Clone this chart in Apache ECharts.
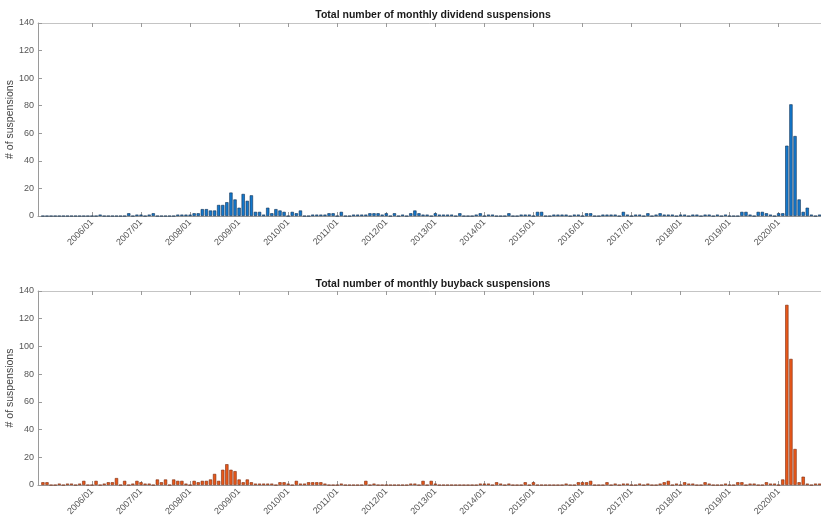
<!DOCTYPE html>
<html><head><meta charset="utf-8">
<script src="https://cdn.jsdelivr.net/npm/echarts@6/dist/echarts.min.js"></script>
<style>html,body{margin:0;padding:0;background:#fff}#c{width:821px;height:524px}</style>
</head><body><div id="c"></div><script>
// Months 2005/01 .. 2020/11
const months = [];
for (let y = 2005; y <= 2020; y++) {
  for (let m = 1; m <= 12; m++) {
    if (y === 2020 && m > 11) break;
    months.push(y + '/' + (m < 10 ? '0' + m : m));
  }
}

const dividendSuspensions = [
  0,0,0,0,0,0,0,0,0,0,0,0,        // 2005
  0,0,1,0,0,0,0,0,0,2,0,1,        // 2006
  1,0,1,2,0,0,0,0,0,1,1,1,        // 2007
  1,2,2,5,5,4,4,8,8,10,17,12,     // 2008
  6,16,11,15,3,3,1,6,2,5,4,3,     // 2009
  0,3,2,4,0,0,1,1,1,1,2,2,        // 2010
  0,3,0,0,1,1,1,1,2,2,2,1,        // 2011
  2,0,2,0,1,0,2,4,2,1,1,0,        // 2012
  2,1,1,1,1,0,2,0,0,0,1,2,        // 2013
  0,1,1,0,0,0,2,0,0,1,1,1,        // 2014
  0,3,3,0,0,1,1,1,1,0,1,1,        // 2015
  0,2,2,0,0,1,1,1,1,0,3,1,        // 2016
  0,1,1,0,2,0,1,2,1,1,1,0,        // 2017
  1,1,0,1,1,0,1,1,0,1,0,1,        // 2018
  0,0,0,3,3,1,0,3,3,2,1,0,        // 2019
  2,2,51,81,58,12,3,6,1,0,1       // 2020
];

const buybackSuspensions = [
  2,2,0,0,1,0,1,1,0,1,3,0,        // 2005
  0,3,0,1,2,2,5,0,3,0,1,3,        // 2006
  2,1,1,0,4,2,4,0,4,3,3,1,        // 2007
  0,3,2,3,3,4,8,3,11,15,11,10,    // 2008
  4,2,4,2,1,1,1,1,1,0,2,2,        // 2009
  1,0,3,1,1,2,2,2,2,1,0,0,        // 2010
  0,1,0,0,0,0,0,3,0,1,0,0,        // 2011
  0,0,0,0,0,0,1,1,0,3,0,3,        // 2012
  1,0,0,0,0,0,0,0,0,0,0,1,        // 2013
  1,1,0,2,1,0,1,0,0,0,2,0,        // 2014
  2,0,0,0,0,0,0,0,1,0,0,2,        // 2015
  2,2,3,0,0,0,2,0,1,0,1,1,        // 2016
  0,0,1,0,1,0,0,1,2,3,0,1,        // 2017
  0,2,1,1,0,0,2,1,0,0,0,1,        // 2018
  0,0,2,2,0,1,1,0,0,2,1,1,        // 2019
  0,4,130,91,26,2,6,1,0,1,1       // 2020
];

const tickLabels = ['2006/01','2007/01','2008/01','2009/01','2010/01','2011/01','2012/01',
  '2013/01','2014/01','2015/01','2016/01','2017/01','2018/01','2019/01','2020/01'];

const titles = ['Total number of monthly dividend suspensions', 'Total number of monthly buyback suspensions'];
const yName = '# of suspensions';

// month offset relative to 2006/01
function monthPos(s) {
  const p = s.split('/');
  return (parseInt(p[0], 10) - 2006) * 12 + (parseInt(p[1], 10) - 1);
}
const tickPositions = tickLabels.map(monthPos);
const labelByPos = {};
tickLabels.forEach(function (t) { labelByPos[monthPos(t)] = t; });

const xMin = -13.2, xMax = 178.6;
const axisColor = '#9a9a9a';
const textColor = '#555555';
const font = 'Liberation Sans';

function bottomX(gi) {
  return {
    type: 'value', gridIndex: gi, min: xMin, max: xMax, position: 'bottom',
    axisLine: { show: true, onZero: false, lineStyle: { color: axisColor, width: 1 } },
    axisTick: { show: true, inside: true, length: 4, customValues: tickPositions, lineStyle: { color: axisColor } },
    axisLabel: {
      customValues: tickPositions, rotate: 45, margin: 5, fontSize: 9, color: textColor, fontFamily: font,
      formatter: function (v) { return labelByPos[Math.round(v)] || ''; }
    },
    splitLine: { show: false }
  };
}
function topX(gi) {
  return {
    type: 'value', gridIndex: gi, min: xMin, max: xMax, position: 'top',
    axisLine: { show: true, onZero: false, lineStyle: { color: '#c4c4c4', width: 1 } },
    axisTick: { show: true, inside: true, length: 4, customValues: tickPositions, lineStyle: { color: axisColor } },
    axisLabel: { show: false },
    splitLine: { show: false }
  };
}
function yAx(gi) {
  return {
    type: 'value', gridIndex: gi, min: 0, max: 140, interval: 20, position: 'left',
    axisLine: { show: true, onZero: false, lineStyle: { color: axisColor, width: 1 } },
    axisTick: { show: true, inside: true, length: 4, lineStyle: { color: axisColor } },
    axisLabel: { fontSize: 9, color: textColor, margin: 4, fontFamily: font },
    splitLine: { show: false },
    name: yName, nameLocation: 'middle', nameGap: 22, nameMoveOverlap: false,
    nameTextStyle: { fontSize: 10.5, color: '#444', fontFamily: font }
  };
}

const chart = echarts.init(document.getElementById('c'), null, { renderer: 'canvas' });
chart.setOption({
  backgroundColor: '#ffffff',
  animation: false,
  title: [
    { text: titles[0], left: 428, top: 5, textAlign: 'center',
      textStyle: { fontSize: 10.5, fontWeight: 'bold', color: '#1a1a1a', fontFamily: font } },
    { text: titles[1], left: 428, top: 274, textAlign: 'center',
      textStyle: { fontSize: 10.5, fontWeight: 'bold', color: '#1a1a1a', fontFamily: font } }
  ],
  grid: [
    { left: 38, right: -1, top: 23, height: 193, outerBoundsMode: 'none', containLabel: false },
    { left: 38, right: -1, top: 291, height: 194, outerBoundsMode: 'none', containLabel: false }
  ],
  xAxis: [bottomX(0), topX(0), bottomX(1), topX(1)],
  yAxis: [yAx(0), yAx(1)],
  series: [
    {
      type: 'bar', xAxisIndex: 0, yAxisIndex: 0, barWidth: '80%',
      data: months.map(function (m, k) { return [monthPos(m), dividendSuspensions[k]]; }),
      itemStyle: { color: '#1478cc', borderColor: '#0d2f52', borderWidth: 0.6 }
    },
    {
      type: 'bar', xAxisIndex: 2, yAxisIndex: 1, barWidth: '80%',
      data: months.map(function (m, k) { return [monthPos(m), buybackSuspensions[k]]; }),
      itemStyle: { color: '#e8581a', borderColor: '#7a2a0e', borderWidth: 0.6 }
    }
  ]
});
</script></body></html>
